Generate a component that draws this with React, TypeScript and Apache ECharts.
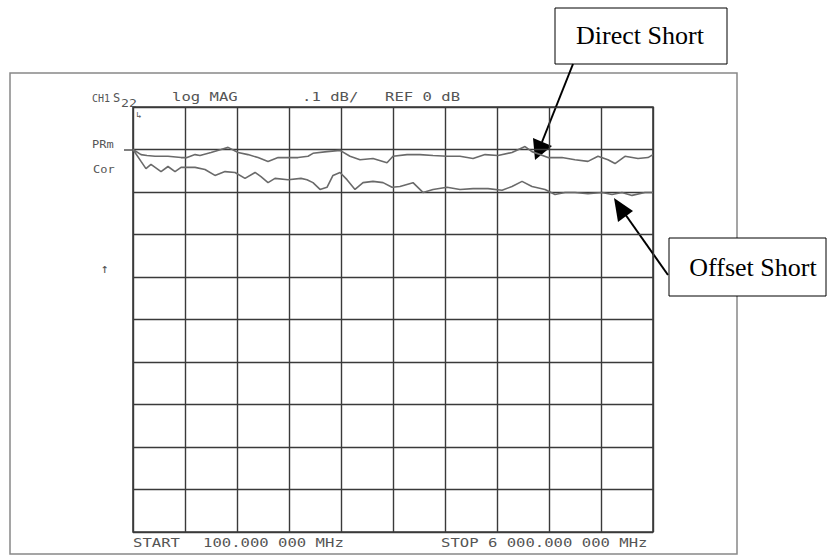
import React, { useEffect, useRef } from "react";
import * as echarts from "echarts";

// Frequency axis: START 100 MHz, STOP 6000 MHz (10 divisions of 590 MHz)
const START_MHZ = 100;
const STOP_MHZ = 6000;
// Vertical: .1 dB/div, REF 0 dB on the first division below the top
const Y_MIN = -0.9;
const Y_MAX = 0.1;
const Y_STEP = 0.1;

const directFreq = [100, 191, 259, 350, 497, 645, 713, 804, 860, 985, 1099, 1179, 1292, 1405, 1519, 1632, 1746, 1859, 1973, 2086, 2142, 2301, 2449, 2562, 2676, 2823, 2982, 3050, 3209, 3356, 3504, 3663, 3810, 3958, 4094, 4241, 4400, 4548, 4627, 4809, 4967, 5115, 5262, 5376, 5489, 5569, 5682, 5830, 5943, 6000];
const directDb = [0, -0.012, -0.014, -0.016, -0.016, -0.019, -0.019, -0.012, -0.014, -0.007, 0.0, 0.005, -0.007, -0.012, -0.019, -0.028, -0.019, -0.019, -0.019, -0.016, -0.009, -0.005, -0.002, -0.016, -0.024, -0.021, -0.031, -0.016, -0.012, -0.012, -0.014, -0.016, -0.016, -0.021, -0.012, -0.014, -0.007, 0.007, -0.005, -0.019, -0.019, -0.024, -0.028, -0.016, -0.024, -0.033, -0.016, -0.021, -0.019, -0.012];

const offsetFreq = [100, 191, 247, 304, 418, 497, 577, 645, 804, 917, 1030, 1144, 1258, 1371, 1485, 1552, 1632, 1711, 1859, 2006, 2074, 2142, 2222, 2301, 2369, 2449, 2528, 2619, 2710, 2823, 2937, 3039, 3129, 3277, 3390, 3504, 3663, 3810, 3958, 4128, 4287, 4400, 4514, 4627, 4775, 4888, 5002, 5115, 5262, 5421, 5535, 5648, 5762, 5909, 6000];
const offsetDb = [0, -0.028, -0.045, -0.035, -0.052, -0.04, -0.052, -0.042, -0.042, -0.047, -0.061, -0.052, -0.054, -0.068, -0.054, -0.064, -0.078, -0.068, -0.071, -0.068, -0.071, -0.078, -0.094, -0.089, -0.061, -0.054, -0.071, -0.094, -0.078, -0.075, -0.078, -0.089, -0.087, -0.078, -0.101, -0.094, -0.089, -0.094, -0.092, -0.092, -0.096, -0.087, -0.075, -0.087, -0.094, -0.106, -0.101, -0.101, -0.104, -0.101, -0.106, -0.101, -0.108, -0.101, -0.101];

const headerTexts = ["CH1", "S", "22", "log MAG", ".1 dB/", "REF 0 dB"];
const footerTexts = ["START", "100.000 000 MHz", "STOP 6 000.000 000 MHz"];
const sideTexts = ["PRm", "Cor", "↑"];
const annotationTexts = ["Direct Short", "Offset Short"];

const PLOT = "#555";
const MONO = "'DejaVu Sans Mono', monospace";
const SERIF = "26px 'Liberation Serif', 'Times New Roman', serif";

export default function App() {
  const ref = useRef<HTMLDivElement>(null);

  useEffect(() => {
    if (!ref.current) return;
    const chart = echarts.init(ref.current, undefined, { renderer: "svg" });

    const toX = (f: number) => f - START_MHZ;
    const plotText = (text: string, x: number, y: number, size = 12, sx = 1.3) => ({
      type: "text",
      x,
      y,
      scaleX: sx,
      style: {
        text,
        fill: PLOT,
        font: `${size}px ${MONO}`,
        textAlign: "left",
        textVerticalAlign: "middle",
      },
    });

    chart.setOption({
      animation: false,
      backgroundColor: "#fff",
      grid: {
        left: 133,
        top: 107,
        width: 520,
        height: 425,
        show: true,
        borderColor: "#3a3a3a",
        borderWidth: 1.6,
      },
      xAxis: {
        type: "value",
        min: 0,
        max: STOP_MHZ - START_MHZ,
        interval: (STOP_MHZ - START_MHZ) / 10,
        axisLabel: { show: false },
        axisTick: { show: false },
        axisLine: { show: false },
        splitLine: { show: true, lineStyle: { color: "#3a3a3a", width: 1.4 } },
      },
      yAxis: {
        type: "value",
        min: Y_MIN,
        max: Y_MAX,
        interval: Y_STEP,
        axisLabel: { show: false },
        axisTick: { show: false },
        axisLine: { show: false },
        splitLine: { show: true, lineStyle: { color: "#3a3a3a", width: 1.4 } },
      },
      series: [
        {
          name: "Direct Short",
          type: "line",
          showSymbol: false,
          data: directFreq.map((f, i) => [toX(f), directDb[i]]),
          lineStyle: { color: "#6a6a6a", width: 1.6 },
        },
        {
          name: "Offset Short",
          type: "line",
          showSymbol: false,
          data: offsetFreq.map((f, i) => [toX(f), offsetDb[i]]),
          lineStyle: { color: "#6a6a6a", width: 1.6 },
        },
      ],
      graphic: [
        {
          type: "rect",
          shape: { x: 10, y: 73, width: 727, height: 481 },
          style: { fill: "none", stroke: "#888", lineWidth: 1.5 },
        },
        plotText(headerTexts[0], 92, 98, 10, 1.0),
        plotText(headerTexts[1], 113, 98, 12, 1.0),
        plotText(headerTexts[2], 121, 103, 11, 1.2),
        plotText(headerTexts[3], 172, 97),
        plotText(headerTexts[4], 302, 97),
        plotText(headerTexts[5], 385, 97),
        plotText(footerTexts[0], 133, 543),
        plotText(footerTexts[1], 203, 543),
        plotText(footerTexts[2], 441, 543),
        plotText(sideTexts[0], 92, 145, 10, 1.2),
        plotText(sideTexts[1], 93, 170, 10, 1.2),
        plotText(sideTexts[2], 101, 268, 13, 1),
        {
          type: "line",
          shape: { x1: 124, y1: 150, x2: 135, y2: 150 },
          style: { stroke: PLOT, lineWidth: 1.5 },
        },
        plotText("↳", 136, 115, 9, 1),
        // Direct Short annotation
        {
          type: "rect",
          shape: { x: 555, y: 8, width: 172, height: 56 },
          style: { fill: "#fff", stroke: "#000", lineWidth: 1 },
        },
        {
          type: "text",
          x: 640,
          y: 35,
          style: {
            text: annotationTexts[0],
            fill: "#000",
            font: SERIF,
            textAlign: "center",
            textVerticalAlign: "middle",
          },
        },
        {
          type: "line",
          shape: { x1: 573, y1: 64, x2: 542, y2: 142 },
          style: { stroke: "#000", lineWidth: 2 },
        },
        {
          type: "polygon",
          shape: { points: [[535, 160], [533, 138], [552, 146]] },
          style: { fill: "#000" },
        },
        // Offset Short annotation
        {
          type: "rect",
          shape: { x: 669, y: 238, width: 157, height: 58 },
          style: { fill: "#fff", stroke: "#000", lineWidth: 1 },
        },
        {
          type: "text",
          x: 753,
          y: 267,
          style: {
            text: annotationTexts[1],
            fill: "#000",
            font: SERIF,
            textAlign: "center",
            textVerticalAlign: "middle",
          },
        },
        {
          type: "line",
          shape: { x1: 668, y1: 275, x2: 625, y2: 214 },
          style: { stroke: "#000", lineWidth: 2 },
        },
        {
          type: "polygon",
          shape: { points: [[614, 198], [633, 211], [618, 222]] },
          style: { fill: "#000" },
        },
      ],
    });

    return () => chart.dispose();
  }, []);

  return (
    <div
      ref={ref}
      style={{ position: "absolute", left: 0, top: 0, width: 834, height: 558 }}
    />
  );
}
